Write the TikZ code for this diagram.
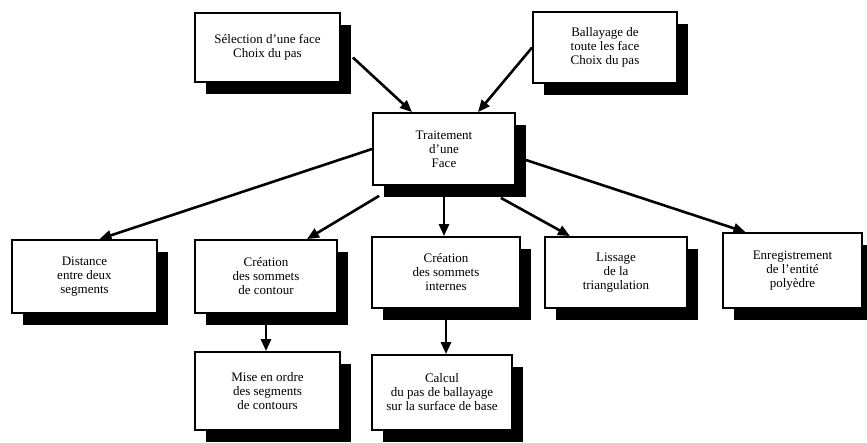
\documentclass[tikz,border=0pt]{standalone}
\usepackage{fontspec}
\setmainfont{Liberation Serif}
\usetikzlibrary{arrows.meta,shadows}
\begin{document}
\begin{tikzpicture}[x=1pt,y=-1pt,
  boxnode/.style={draw=black, line width=1.8pt, fill=white, align=center,
    inner sep=0pt, font=\fontsize{13}{14}\selectfont,
    drop shadow={opacity=1, fill=black, shadow xshift=11pt, shadow yshift=-12pt}},
  conn/.style={line width=2.6pt, -{Triangle[length=12pt,width=10pt]}}]
\useasboundingbox[fill=white] (0,0) rectangle (867,443);

\node[boxnode, minimum width=145pt, minimum height=69pt] (sel) at (267.5,47.5) {Sélection d'une face\\Choix du pas};
\node[boxnode, minimum width=144pt, minimum height=71pt] (bal) at (605,47.5) {Ballayage de\\toute les face\\Choix du pas};
\node[boxnode, minimum width=142pt, minimum height=72pt] (trait) at (444,149) {Traitement\\d'une\\Face};
\node[boxnode, minimum width=145pt, minimum height=73pt] (dist) at (84.5,276.5) {Distance\\entre deux\\segments};
\node[boxnode, minimum width=142pt, minimum height=73pt] (cont) at (266,276.5) {Création\\des sommets\\de contour};
\node[boxnode, minimum width=148pt, minimum height=71pt] (intern) at (446,272.5) {Création\\des sommets\\internes};
\node[boxnode, minimum width=142pt, minimum height=71pt] (liss) at (616,272.5) {Lissage\\de la\\triangulation};
\node[boxnode, minimum width=139pt, minimum height=75pt] (enr) at (792.5,270.5) {Enregistrement\\de l'entité\\polyèdre};
\node[boxnode, minimum width=145pt, minimum height=78pt] (mise) at (267.5,391) {Mise en ordre\\des segments\\de contours};
\node[boxnode, minimum width=140pt, minimum height=75pt] (calc) at (442,392.5) {Calcul\\du pas de ballayage\\sur la surface de base};

\draw[conn] ([xshift=12pt,yshift=-10pt]sel.east) -- ([xshift=-32pt]trait.north);
\draw[conn] (bal.west) -- ([xshift=34pt]trait.north);
\draw[conn] (trait.west) -- ([xshift=15pt]dist.north);
\draw[conn] ([xshift=7pt,yshift=-10pt]trait.south west) -- ([xshift=41pt]cont.north);
\draw[conn] (trait.south) -- (trait.south |- intern.north);
\draw[conn] ([xshift=-15pt,yshift=-12pt]trait.south east) -- ([xshift=-46pt]liss.north);
\draw[conn] ([xshift=10pt,yshift=-11pt]trait.east) -- ([xshift=-47pt]enr.north);
\draw[conn] (cont.south) -- (cont.south |- mise.north);
\draw[conn] (intern.south) -- (intern.south |- calc.north);
\end{tikzpicture}
\end{document}
